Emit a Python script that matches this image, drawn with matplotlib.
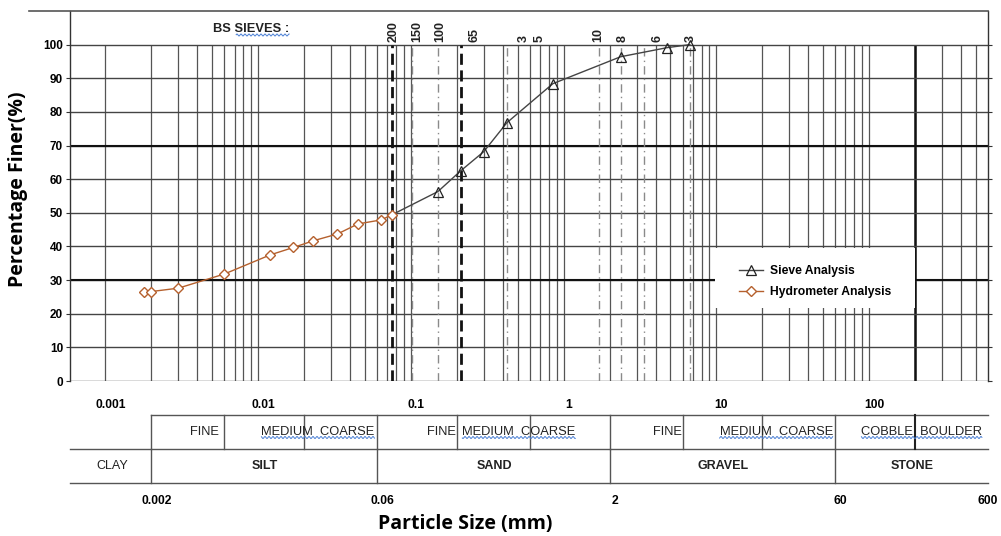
import numpy as np
import matplotlib
matplotlib.use("Agg")
import matplotlib.pyplot as plt
import matplotlib.transforms as mtransforms
from matplotlib.lines import Line2D
from matplotlib.patches import Rectangle

# --- data ---
sieve_size = [0.075, 0.15, 0.212, 0.3, 0.425, 0.85, 2.36, 4.75, 6.7]
sieve_finer = [49.4, 56.3, 62.5, 68.2, 76.8, 88.4, 96.4, 99.1, 100]

hydro_size = [0.0018, 0.002, 0.003, 0.006, 0.012, 0.017, 0.023, 0.033, 0.045, 0.064, 0.075]
hydro_finer = [26.6, 26.6, 27.6, 31.8, 37.5, 39.7, 41.7, 43.7, 46.7, 47.9, 49.4]

# BS sieve lines and their labels
sieve_lines = [0.075, 0.102, 0.15, 0.212, 0.425, 1.7, 2.36, 3.35, 6.7]
sieve_heavy = [0.075, 0.212]
sieve_labels = ["200", "150", "100", "65", "3", "5", "10", "8", "6", "3"]
sieve_label_pos = [0.077, 0.110, 0.156, 0.26, 0.545, 0.70, 1.69, 2.42, 4.1, 6.76]

x_ticks = [0.001, 0.01, 0.1, 1, 10, 100]
x_tick_labels = ["0.001", "0.01", "0.1", "1", "10", "100"]

# classification table
sub_bounds = [0.002, 0.006, 0.02, 0.06, 0.2, 0.6, 2, 6, 20, 60, 200]
main_bounds = [0.002, 0.06, 2, 60]
bound_labels = ["0.002", "0.06", "2", "60", "600"]
bound_label_pos = [0.002, 0.06, 2, 60, 550]
main_names = ["CLAY", "SILT", "SAND", "GRAVEL", "STONE"]
main_centers = [0.0011, 0.011, 0.35, 11, 190]
sub_names = ["FINE", "MEDIUM  COARSE", "FINE", "MEDIUM  COARSE", "FINE", "MEDIUM  COARSE", "COBBLE  BOULDER"]
sub_left = [0.0036, 0.0105, 0.128, 0.217, 3.85, 10.5, 89]
sub_wavy = [False, True, False, True, False, True, True]

ARIAL = "Liberation Sans"
TITLE_FONT = "Open Sans"

W, H = 1001, 536
fig = plt.figure(figsize=(W / 100, H / 100), dpi=100)
ax = fig.add_axes([70 / W, 1 - 381 / H, (988 - 70) / W, (381 - 11) / H])
ax.set_xscale("log")
ax.set_xlim(0.000586, 600)
ax.set_ylim(0, 110)

# grid, only inside 0..100
grid_x = [k * 10.0 ** d for d in range(-3, 3) for k in range(1, 10) if k * 10.0 ** d < 600]
ax.vlines(grid_x, 0, 100, color="#555555", lw=0.9, zorder=1)
ax.vlines([200], 0, 100, color="#111111", lw=1.8, zorder=1)
ax.hlines(np.arange(0, 101, 10), 0.000586, 600, color="#444444", lw=1.0, zorder=1)
ax.hlines([70, 30], 0.000586, 600, color="#111111", lw=1.5, zorder=1)

for s in sieve_lines:
    if s in sieve_heavy:
        ax.vlines(s, 0, 100, color="#111111", lw=2.0, linestyles=(0, (4, 2)), zorder=2)
    else:
        ax.vlines(s, 0, 100, color="#8a8a8a", lw=1.0, linestyles=(0, (6, 3, 1, 3)), zorder=2)

for lab, pos in zip(sieve_labels, sieve_label_pos):
    ax.text(pos, 100.9, lab, rotation=90, ha="center", va="bottom",
            fontsize=9, fontweight="bold", family=ARIAL, color="#222222")
bs = ax.text(0.00903, 104.5, "BS SIEVES :", ha="center", va="center",
             fontsize=9.3, fontweight="bold", family=ARIAL, color="#222222")

# curves
ax.plot(sieve_size, sieve_finer, color="#444444", lw=1.0, marker="^", ms=7,
        mfc="none", mec="#222222", mew=0.9, markevery=slice(1, None), zorder=5,
        label="Sieve Analysis")
ax.plot(hydro_size, hydro_finer, color="#b5602d", lw=1.0, marker="D", ms=5.5,
        mfc="white", mec="#b5602d", mew=1.0, zorder=6,
        label="Hydrometer Analysis")

# legend on a white patch
ax.add_patch(Rectangle(((715 - 70) / 918, (381 - 308) / 370), 200 / 918, 60 / 370,
                       transform=ax.transAxes, facecolor="white", edgecolor="none", zorder=4))
ax.legend(loc="upper left", bbox_to_anchor=((733 - 70) / 918, (381 - 259) / 370),
          frameon=False, borderpad=0, handlelength=2.0, handletextpad=0.55,
          labelspacing=0.75, prop={"family": ARIAL, "weight": "bold", "size": 8.7})

# axes styling
for side in ["top", "bottom"]:
    ax.spines[side].set_visible(False)
for side in ["left", "right"]:
    ax.spines[side].set_color("#333333")
    ax.spines[side].set_linewidth(1.0)
ax.set_yticks(range(0, 101, 10))
ax.set_yticklabels([str(v) for v in range(0, 101, 10)], fontsize=8.5,
                   fontweight="bold", family=ARIAL)
ax.tick_params(axis="y", direction="out", length=3, pad=2, right=True, color="#333333")
ax.set_xticks([])
ax.set_xticks([], minor=True)

xt = ax.get_xaxis_transform()
shift = mtransforms.offset_copy(xt, fig=fig, x=5, y=0, units="dots")
for v, lab in zip(x_ticks, x_tick_labels):
    ax.text(v, -(405 - 381) / 370, lab, transform=shift, ha="center", va="center",
            fontsize=8.7, fontweight="bold", family=ARIAL, clip_on=False)

# table below the axis
y1, y2, y3 = -(415 - 381) / 370, -(449 - 381) / 370, -(483 - 381) / 370
lc = "#555555"
ax.plot([0.002, 600], [y1, y1], transform=xt, color=lc, lw=1, clip_on=False)
ax.plot([0.000586, 600], [y2, y2], transform=xt, color=lc, lw=1, clip_on=False)
ax.plot([0.000586, 600], [y3, y3], transform=xt, color=lc, lw=1, clip_on=False)
for b in sub_bounds:
    ax.plot([b, b], [y1, y2], transform=xt, color="#222222" if b == 200 else lc,
            lw=1.5 if b == 200 else 1, clip_on=False)
for b in main_bounds:
    ax.plot([b, b], [y2, y3], transform=xt, color=lc, lw=1, clip_on=False)

yr1 = (y1 + y2) / 2
yr2 = (y2 + y3) / 2
wavy_texts = []
for name, left, wv in zip(sub_names, sub_left, sub_wavy):
    t = ax.text(left, yr1, name, transform=xt, ha="left", va="center", fontsize=9.3,
                family=ARIAL, color="#222222", clip_on=False)
    if wv:
        wavy_texts.append((t, 0.0))
wavy_texts.append((bs, 0.3))
for name, c in zip(main_names, main_centers):
    ax.text(c, yr2, name, transform=xt, ha="center", va="center", fontsize=9,
            family=ARIAL, fontweight="normal" if name == "CLAY" else "bold",
            color="#222222", clip_on=False)
for lab, pos in zip(bound_labels, bound_label_pos):
    ax.text(pos, -(501 - 381) / 370, lab, transform=shift, ha="center", va="center",
            fontsize=8.7, fontweight="bold", family=ARIAL, clip_on=False)

# frame line on top and the axis titles
fig.add_artist(Line2D([29 / W, 988 / W], [1 - 11 / H, 1 - 11 / H], color="#555555", lw=1.2))
fig.text(18 / W, 1 - 189 / H, "Percentage Finer(%)", rotation=90, ha="center", va="center",
         fontsize=14, fontweight="bold", family=TITLE_FONT)
fig.text(465 / W, 1 - 524 / H, "Particle Size (mm)", ha="center", va="center",
         fontsize=14, fontweight="bold", family=TITLE_FONT)

# spell-check style wavy underlines
fig.canvas.draw()
renderer = fig.canvas.get_renderer()
for t, skip in wavy_texts:
    bb = t.get_window_extent(renderer)
    x0 = bb.x0 + skip * bb.width
    xs = np.arange(x0, bb.x1, 0.5)
    ys = bb.y0 + 0.5 + 1.0 * np.sin(xs * 2 * np.pi / 4.0)
    fig.add_artist(Line2D(xs / W, ys / H, color="#4a7fd4", lw=0.7))

plt.savefig("out.png", dpi=100)
